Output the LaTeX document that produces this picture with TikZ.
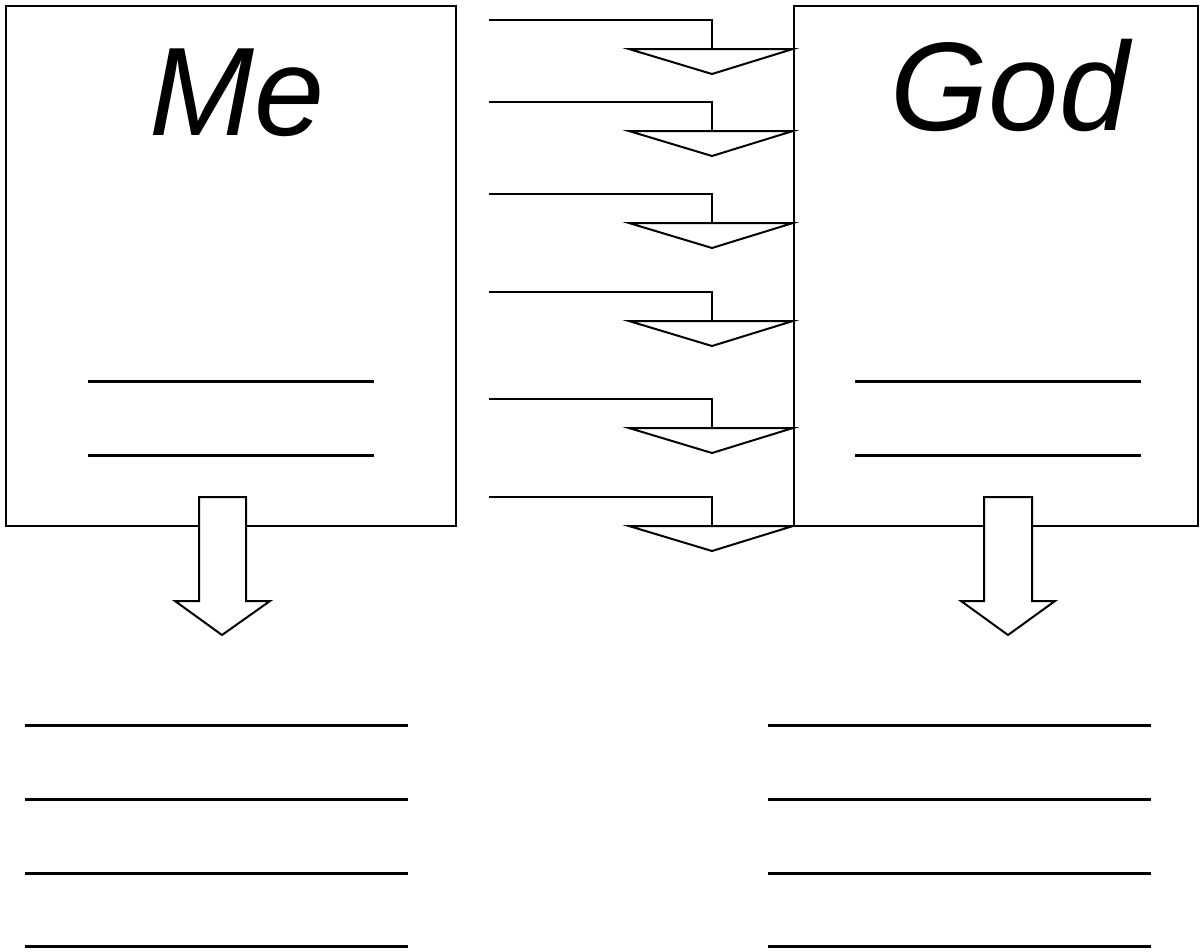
\documentclass[tikz,border=0pt]{standalone}
\usepackage{fontspec}
\setmainfont{Liberation Sans}
\usetikzlibrary{positioning}

\tikzset{
  panel/.style={draw,line width=2pt,fill=white,minimum width=450pt,minimum height=520pt,inner sep=0pt},
  blank/.style={line width=3pt},
  bent/.style={line width=2pt},
  fatarrow/.style={draw,line width=2pt,fill=white,line join=miter},
  title/.style={anchor=base,font=\fontsize{126}{130}\selectfont\itshape}
}

\begin{document}
\begin{tikzpicture}[x=1pt,y=-1pt]
\useasboundingbox (0,0) rectangle (1201,951);

% the two boxes
\node[panel] (me) at (231,266) {};
\node[panel,minimum width=404pt] (god) at (996,266) {};

\node[title] (metext) at (237,135) {Me};
\node[title] (godtext) at (1010,130) {God};

% lines inside the boxes
\foreach \y in {381,455} {
  \draw[blank] (88,\y) -- (374,\y);
  \draw[blank] (855,\y) -- (1141,\y);
}

% bent arrows from Me to God
\foreach \y in {20,102,194,292,399,497} {
  \coordinate (a) at (me.east |- 0,\y);
  \draw[bent] ([xshift=32pt]a) -- (712,\y) -- (712,\y+29);
  \draw[bent,line join=miter] (629,\y+29) -- (god.west |- 0,\y+29) -- (712,\y+54) -- cycle;
}

% big arrows below
\draw[fatarrow] (199,497) -- (246,497) -- (246,601) -- (270,601) -- (222,635)
  -- (175,601) -- (199,601) -- cycle;
\draw[fatarrow] (984,497) -- (1032,497) -- (1032,601) -- (1055,601) -- (1008,635)
  -- (961,601) -- (984,601) -- cycle;

% lines below
\foreach \y in {725,799,873,946} {
  \draw[blank] (25,\y) -- (408,\y);
  \draw[blank] (768,\y) -- (1151,\y);
}
\end{tikzpicture}
\end{document}
